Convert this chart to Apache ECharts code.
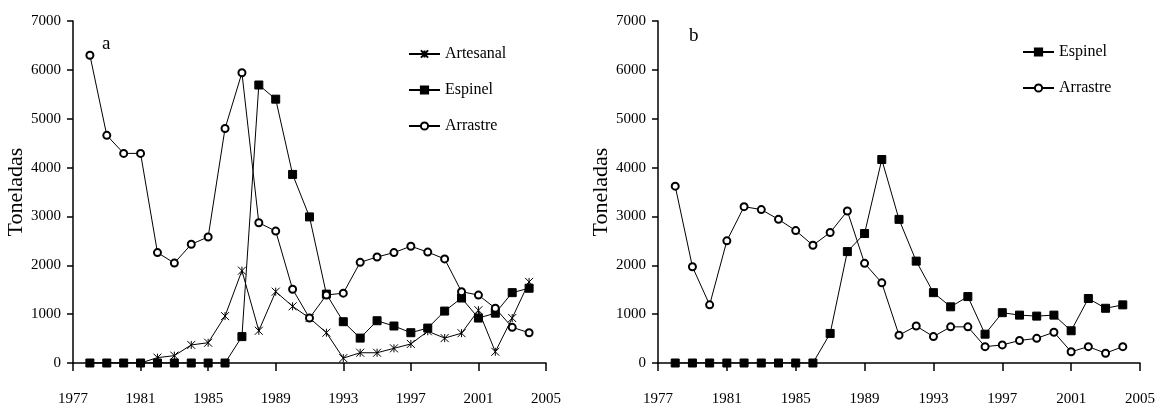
<!DOCTYPE html>
<html lang="es">
<head>
    <meta charset="UTF-8">
    <title>Toneladas</title>
    <script src="https://cdn.jsdelivr.net/npm/echarts@6/dist/echarts.min.js"></script>
</head>
<body style="margin:0;background:#fff">
    <div id="box" style="width:1162px;height:408px;"></div>
    <script>
        var years = [1978, 1979, 1980, 1981, 1982, 1983, 1984, 1985, 1986, 1987, 1988, 1989, 1990, 1991,
            1992, 1993, 1994, 1995, 1996, 1997, 1998, 1999, 2000, 2001, 2002, 2003, 2004];

        // panel a
        var artesanalA = [0, 0, 0, 0, 110, 150, 370, 415, 960, 1890, 660, 1460, 1160, 920,
            620, 100, 210, 210, 300, 390, 650, 510, 610, 1080, 230, 920, 1660];
        var espinelA = [0, 0, 0, 0, 0, 0, 0, 0, 0, 540, 5690, 5400, 3860, 2990,
            1410, 845, 510, 865, 757, 620, 715, 1063, 1330, 920, 1020, 1440, 1530];
        var arrastreA = [6300, 4660, 4290, 4290, 2260, 2045, 2430, 2580, 4800, 5940, 2870, 2700, 1510, 920,
            1390, 1430, 2060, 2170, 2260, 2390, 2270, 2130, 1460, 1390, 1120, 730, 620];

        // panel b
        var espinelB = [0, 0, 0, 0, 0, 0, 0, 0, 0, 605, 2280, 2650, 4165, 2940,
            2085, 1440, 1150, 1360, 590, 1030, 980, 960, 980, 660, 1320, 1120, 1190];
        var arrastreB = [3620, 1970, 1190, 2500, 3200, 3140, 2940, 2710, 2410, 2670, 3110, 2040, 1640, 570,
            757, 540, 740, 740, 335, 370, 460, 505, 630, 230, 335, 200, 335];

        var font = '"Liberation Serif", "DejaVu Serif", serif';
        var starPath = 'path://M0,0L10,10M10,0L0,10M5,0L5,10';
        var plain = function (v) { return String(v); };

        function pairs(vals) {
            return years.map(function (y, i) { return [y, vals[i]]; });
        }

        function xAxisFor(idx) {
            return {
                gridIndex: idx, type: 'value', min: 1977, max: 2005, interval: 4,
                axisLine: { show: true, onZero: false, lineStyle: { color: '#000', width: 1.5 } },
                axisTick: { show: true, length: 8, lineStyle: { color: '#000', width: 1.5 } },
                axisLabel: { margin: 29, color: '#000', fontFamily: font, fontSize: 15, formatter: plain },
                splitLine: { show: false }
            };
        }
        function yAxisFor(idx) {
            return {
                gridIndex: idx, type: 'value', min: 0, max: 7000, interval: 1000,
                name: 'Toneladas', nameLocation: 'middle', nameGap: 45,
                nameTextStyle: { color: '#000', fontFamily: font, fontSize: 22 },
                axisLine: { show: true, lineStyle: { color: '#000', width: 1.5 } },
                axisTick: { show: true, length: 6, lineStyle: { color: '#000', width: 1.5 } },
                axisLabel: { margin: 12, color: '#000', fontFamily: font, fontSize: 15, formatter: plain },
                splitLine: { show: false }
            };
        }
        function line(name, idx, vals, symbol, size) {
            return {
                name: name, type: 'line', xAxisIndex: idx, yAxisIndex: idx,
                data: pairs(vals), symbol: symbol, symbolSize: size,
                showAllSymbol: true, animation: false,
                lineStyle: { color: '#000', width: 1 },
                itemStyle: { color: '#000', borderColor: '#000', borderWidth: 1 }
            };
        }

        var chart = echarts.init(document.getElementById('box'));
        chart.setOption({
            backgroundColor: '#fff',
            title: [
                { text: 'a', left: 97, top: 30, textStyle: { fontFamily: font, fontSize: 19, fontWeight: 'normal', color: '#000' } },
                { text: 'b', left: 684, top: 22, textStyle: { fontFamily: font, fontSize: 19, fontWeight: 'normal', color: '#000' } }
            ],
            legend: [
                {
                    left: 403, top: 41, orient: 'vertical', itemWidth: 31, itemHeight: 9, itemGap: 20,
                    textStyle: { fontFamily: font, fontSize: 16, color: '#000' },
                    data: [
                        { name: 'Artesanal' },
                        { name: 'Espinel' },
                        { name: 'Arrastre' }
                    ]
                },
                {
                    left: 1017, top: 39, orient: 'vertical', itemWidth: 31, itemHeight: 9, itemGap: 20,
                    textStyle: { fontFamily: font, fontSize: 16, color: '#000' },
                    data: [{ name: 'Espinel ' }, { name: 'Arrastre ' }]
                }
            ],
            grid: [
                { left: 73, right: 616, top: 21, bottom: 45 },
                { left: 658, right: 22, top: 21, bottom: 45 }
            ],
            xAxis: [xAxisFor(0), xAxisFor(1)],
            yAxis: [yAxisFor(0), yAxisFor(1)],
            series: [
                line('Artesanal', 0, artesanalA, starPath, 8),
                line('Espinel', 0, espinelA, 'rect', 8),
                line('Arrastre', 0, arrastreA, 'emptyCircle', 7),
                line('Espinel ', 1, espinelB, 'rect', 8),
                line('Arrastre ', 1, arrastreB, 'emptyCircle', 7)
            ]
        });
    </script>
</body>
</html>
